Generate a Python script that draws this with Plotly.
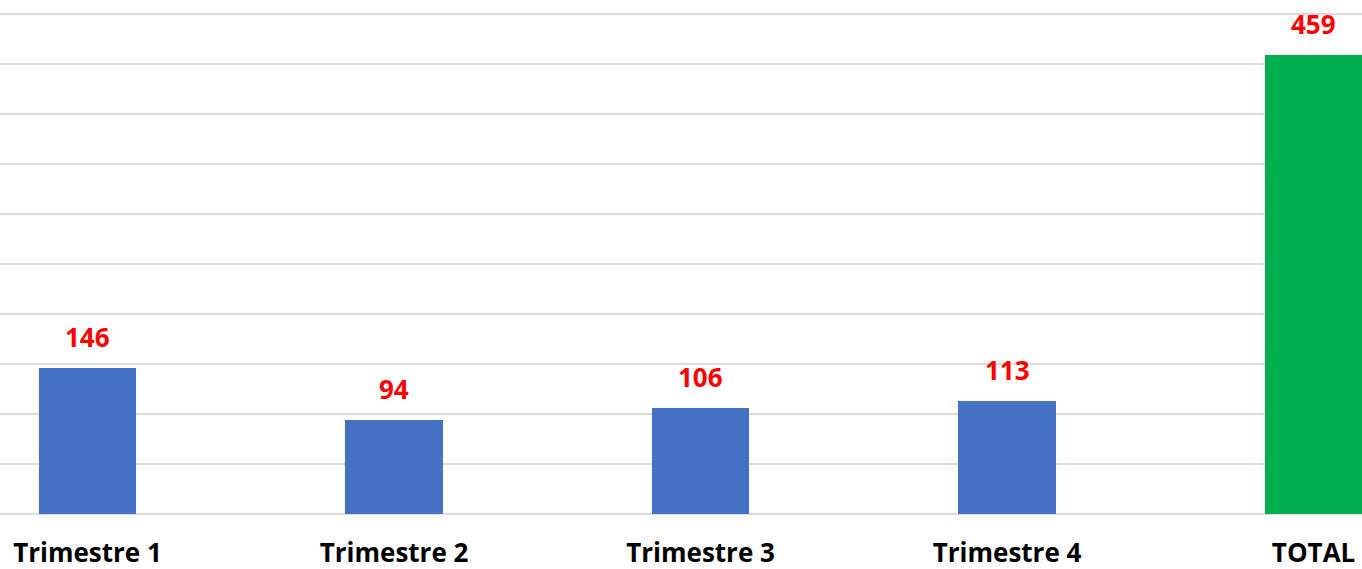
import plotly.graph_objects as go

categories = ["Trimestre 1", "Trimestre 2", "Trimestre 3", "Trimestre 4", "TOTAL"]
values = [146, 94, 106, 113, 459]
colors = ["#4472C4", "#4472C4", "#4472C4", "#4472C4", "#00B050"]

xpos = list(range(len(categories)))

fig = go.Figure()
fig.add_trace(go.Bar(
    x=xpos, y=values, marker=dict(color=colors, line=dict(width=0)),
    width=0.318, showlegend=False, hoverinfo="skip", cliponaxis=False,
))

for xi, v in zip(xpos, values):
    fig.add_annotation(
        x=xi, y=v, text=str(v), showarrow=False, yshift=31, yanchor="middle",
        font=dict(family="Open Sans", size=26, color="#FF0000", weight="bold"),
    )

fig.update_layout(
    width=1362, height=569,
    margin=dict(l=0, r=0, t=0, b=55, pad=0, autoexpand=False),
    paper_bgcolor="white", plot_bgcolor="white",
    bargap=0,
    xaxis=dict(
        range=[-0.2855, 4.158], tickvals=xpos, ticktext=categories,
        showgrid=False, zeroline=False, showline=False, automargin=False,
        ticks="", ticklabelstandoff=21,
        tickfont=dict(family="Open Sans", size=26, color="#000000", weight="bold"),
    ),
    yaxis=dict(
        range=[0, 514], dtick=50, tick0=0, showticklabels=False, automargin=False,
        showgrid=True, gridcolor="#DCDCDC", gridwidth=2,
        zeroline=True, zerolinecolor="#DCDCDC", zerolinewidth=2,
        showline=False,
    ),
)

fig.write_html(
    "out.html",
    config={"displayModeBar": False, "staticPlot": True},
    post_script="document.body.style.margin='0';document.body.style.padding='0';document.body.style.overflow='hidden';",
)
